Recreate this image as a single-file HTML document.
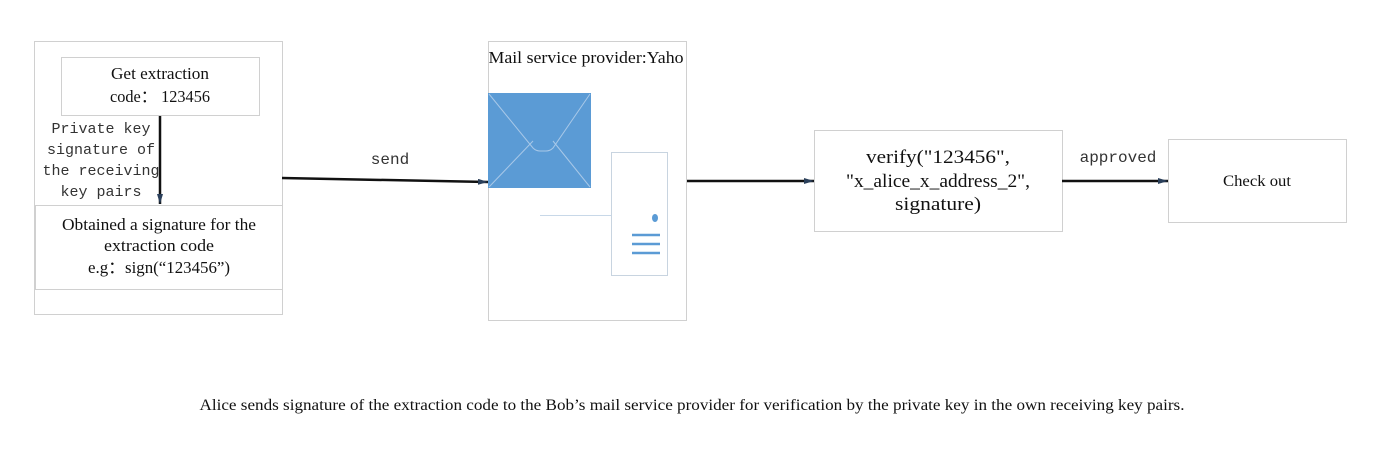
<!DOCTYPE html>
<html><head><style>body{margin:0;background:#fff}</style></head><body>
<svg width="1375" height="450" xmlns="http://www.w3.org/2000/svg" style="display:block">
<defs><marker id="a" markerWidth="10" markerHeight="6" refX="10" refY="3" orient="auto" markerUnits="userSpaceOnUse"><path d="M0,0 L10,3 L0,6 Z" fill="#2a3f5a"/></marker></defs>
<g fill="#fff" stroke="#d0d0d0" stroke-width="1">
<rect x="34.5" y="41.5" width="248" height="273"/>
<rect x="61.5" y="57.5" width="198" height="58"/>
<rect x="35.5" y="205.5" width="247" height="84"/>
<rect x="488.5" y="41.5" width="198" height="279"/>
<rect x="814.5" y="130.5" width="248" height="101"/>
<rect x="1168.5" y="139.5" width="178" height="83"/>
</g>
<g font-family="Liberation Serif, serif" fill="#111" text-anchor="middle" lengthAdjust="spacingAndGlyphs">
<text x="160" y="79" font-size="16.5" textLength="98" lengthAdjust="spacingAndGlyphs">Get extraction</text>
<text x="160" y="102" font-size="16.5" textLength="100" lengthAdjust="spacingAndGlyphs">code： 123456</text>
<text x="159" y="230" font-size="16.5" textLength="194" lengthAdjust="spacingAndGlyphs">Obtained a signature for the</text>
<text x="159" y="251" font-size="16.5" textLength="110" lengthAdjust="spacingAndGlyphs">extraction code</text>
<text x="159" y="273" font-size="16.5" textLength="142" lengthAdjust="spacingAndGlyphs">e.g：sign(“123456”)</text>
<text x="586" y="63" font-size="16.5" textLength="195" lengthAdjust="spacingAndGlyphs">Mail service provider:Yaho</text>
<text x="938" y="163" font-size="19" textLength="144" lengthAdjust="spacingAndGlyphs">verify("123456",</text>
<text x="938" y="187" font-size="19" textLength="184" lengthAdjust="spacingAndGlyphs">"x_alice_x_address_2",</text>
<text x="938" y="210" font-size="19" textLength="86" lengthAdjust="spacingAndGlyphs">signature)</text>
<text x="1257" y="186" font-size="16" textLength="68" lengthAdjust="spacingAndGlyphs">Check out</text>
<text x="692" y="410" font-size="15.5" textLength="985" lengthAdjust="spacingAndGlyphs">Alice sends signature of the extraction code to the Bob’s mail service provider for verification by the private key in the own receiving key pairs.</text>
</g>
<g font-family="Liberation Mono, monospace" fill="#333" text-anchor="middle" font-size="15">
<text x="101" y="133">Private key</text>
<text x="101" y="154">signature of</text>
<text x="101" y="175">the receiving</text>
<text x="101" y="196">key pairs</text>
<text x="390" y="164" font-size="16">send</text>
<text x="1118" y="162" font-size="16">approved</text>
</g>
<g stroke="#111" stroke-width="2.5" fill="none">
<line x1="160" y1="116" x2="160" y2="204" marker-end="url(#a)"/>
<line x1="282" y1="178" x2="488" y2="182" marker-end="url(#a)"/>
<line x1="687" y1="181" x2="814" y2="181" marker-end="url(#a)"/>
<line x1="1062" y1="181" x2="1168" y2="181" marker-end="url(#a)"/>
</g>
<rect x="488" y="93" width="103" height="95" fill="#5b9bd5"/>
<g stroke="#a8c8e8" stroke-width="1" fill="none">
<path d="M489,94 L533,148 Q536,151 540,151 L546,151 Q550,151 553,148 L590,94"/>
<line x1="489" y1="187" x2="533" y2="141"/>
<line x1="590" y1="187" x2="553" y2="141"/>
</g>
<line x1="540" y1="215.5" x2="611" y2="215.5" stroke="#c8d8e8"/>
<rect x="611.5" y="152.5" width="56" height="123" fill="#fff" stroke="#c8d4e0"/>
<ellipse cx="655" cy="218" rx="3" ry="4" fill="#5b9bd5"/>
<g stroke="#5b9bd5" stroke-width="2.5"><line x1="632" y1="235" x2="660" y2="235"/><line x1="632" y1="244" x2="660" y2="244"/><line x1="632" y1="253" x2="660" y2="253"/></g>
</svg>
</body></html>
